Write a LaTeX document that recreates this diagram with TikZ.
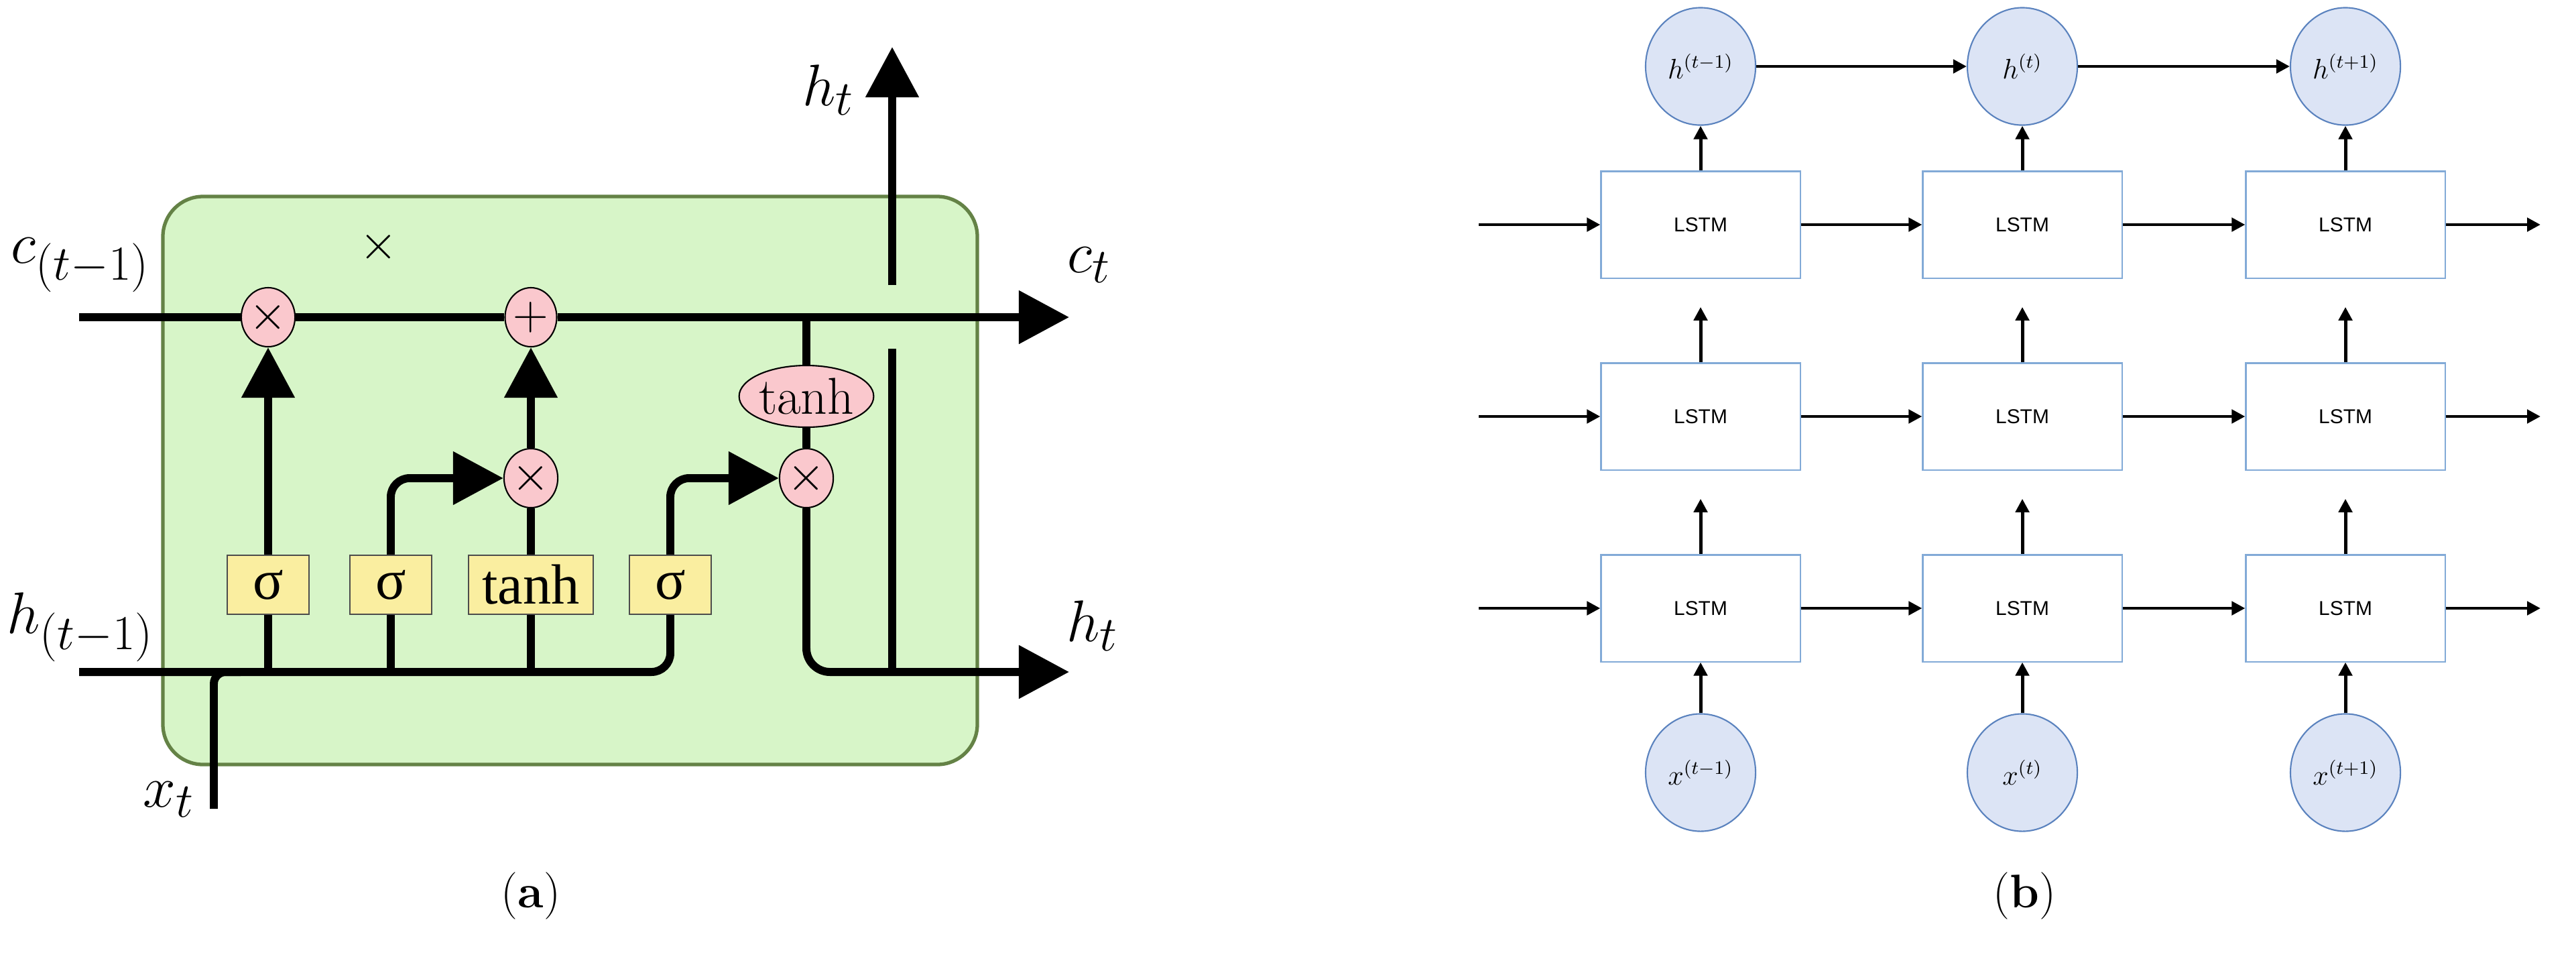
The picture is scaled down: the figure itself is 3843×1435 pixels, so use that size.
\documentclass[tikz,border=0pt]{standalone}
\usepackage{fontspec}
\newfontfamily\lstmfont{Liberation Sans}
\newfontfamily\gatefont{Liberation Serif}
\usetikzlibrary{arrows.meta,shapes.geometric,positioning}
\definecolor{cellgreen}{RGB}{215,245,200}
\definecolor{celledge}{RGB}{100,130,70}
\definecolor{oppink}{RGB}{250,200,205}
\definecolor{gateyellow}{RGB}{250,238,160}
\definecolor{unitblue}{RGB}{220,228,245}
\definecolor{unitedge}{RGB}{90,130,190}
\definecolor{boxedge}{RGB}{130,170,215}
\tikzset{
    flow/.style = {line width = 3.4pt},
    bigtip/.style = {-{Triangle[length = 0.75cm, width = 0.77cm]}},
    op/.style = {ellipse, draw, line width = 0.6pt, fill = oppink,
        minimum width = 0.77cm, minimum height = 0.88cm, inner sep = 0pt,
        font = \fontsize{22}{22}\selectfont},
    gate/.style = {rectangle, draw = black!70, line width = 0.6pt, fill = gateyellow,
        minimum width = 1.22cm, minimum height = 0.88cm, inner sep = 1pt,
        font = \gatefont\fontsize{24}{24}\selectfont},
    lbl/.style = {font = \fontsize{28}{28}\selectfont},
    unit/.style = {ellipse, draw = unitedge, line width = 0.6pt, fill = unitblue,
        minimum width = 1.64cm, minimum height = 1.75cm, inner sep = 0pt,
        font = \fontsize{12}{12}\selectfont},
    cell/.style = {rectangle, draw = boxedge, line width = 0.6pt,
        minimum width = 2.97cm, minimum height = 1.59cm,
        font = \lstmfont\fontsize{8.5}{9}\selectfont},
    link/.style = {line width = 1.4pt, -{Triangle[length = 0.2cm, width = 0.2cm]}},
}
\begin{document}
\begin{tikzpicture}[x = 0.01cm, y = -0.01cm]
    \useasboundingbox (0,0) rectangle (3843,1435);

    % (a) the cell
    \draw [celledge, fill = cellgreen, line width = 1.5pt, rounded corners = 17pt]
        (243,293) rectangle (1458,1140);
    \node [op] (mulf) at (400,473) {$\times$};
    \node [op] (addc) at (792,473) {$+$};
    \node [op] (muli) at (792,713) {$\times$};
    \node [op] (mulo) at (1203,713) {$\times$};
    \node [op, minimum width = 1.89cm, minimum height = 0.92cm] (tanhc) at (1203,591) {tanh};
    \node [gate] (sigf) at (400,872) {σ};
    \node [gate] (sigi) at (583,872) {σ};
    \node [gate, minimum width = 1.86cm] (tanhg) at (792,872) {tanh};
    \node [gate] (sigo) at (1000,872) {σ};
    \coordinate (cin) at (118,473);
    \coordinate (cout) at (1595,473);
    \coordinate (hin) at (118,1002);
    \coordinate (hout) at (1595,1002);
    \coordinate (xin) at (319,1206);
    \coordinate (hup) at (1331,70);

    \draw [flow] (cin) -- (mulf) -- (addc);
    \draw [flow, bigtip] (addc) -- (cout);
    \draw [flow, rounded corners = 8pt] (hin) -- (sigo |- hin) -- (sigo.south);
    \draw [flow, rounded corners = 5pt] (xin) -- (xin |- hin) -- ++(40,0);
    \draw [flow]
        (sigf.south) -- (sigf |- hin)
        (sigi.south) -- (sigi |- hin)
        (tanhg.south) -- (tanhg |- hin)
        (tanhg) -- (muli)
        (mulo |- cout) -- (tanhc) -- (mulo);
    \draw [flow, bigtip] (sigf) -- (mulf);
    \draw [flow, bigtip] (muli) -- (addc);
    \draw [flow, bigtip, rounded corners = 8pt] (sigi.north) |- (muli.west);
    \draw [flow, bigtip, rounded corners = 8pt] (sigo.north) |- (mulo.west);
    \draw [flow, bigtip, rounded corners = 10pt] (mulo) |- (hout);
    \draw [flow] (hup |- hin) -- (1331,520);
    \draw [flow, bigtip] (1331,425) -- (hup);

    \node [lbl] at (120,395) {$c_{(t-1)}$};
    \node [lbl] at (120,935) {$h_{(t-1)}$};
    \node [lbl] at (252,1192) {$x_t$};
    \node [lbl] at (1236,134) {$h_t$};
    \node [lbl] at (1625,395) {$c_t$};
    \node [lbl] at (1630,933) {$h_t$};
    \node [font = \fontsize{20}{20}\selectfont] at (565,368) {$\times$};
    \node [font = \fontsize{20}{20}\selectfont] at (792,1336) {(\textbf{a})};

    % (b) the stacked network
    \foreach \c/\x/\t in {1/2537/t-1, 2/3017/t, 3/3499/t+1} {
        \node [unit] (h\c) at (\x,99) {$h^{(\t)}$};
        \node [unit] (x\c) at (\x,1152) {$x^{(\t)}$};
        \foreach \r/\y in {1/335, 2/621, 3/907}
            \node [cell] (l\r\c) at (\x,\y) {LSTM};
        \draw [link] (x\c) -- (l3\c);
        \draw [link] (l3\c) -- ([yshift = -12]l2\c.south);
        \draw [link] (l2\c) -- ([yshift = -12]l1\c.south);
        \draw [link] (l1\c) -- (h\c);
    }
    \foreach \r in {1, 2, 3} {
        \coordinate (in\r) at (2206, 0 |- l\r1);
        \coordinate (out\r) at (3790, 0 |- l\r1);
        \draw [link] (in\r) -- (l\r1);
        \draw [link] (l\r1) -- (l\r2);
        \draw [link] (l\r2) -- (l\r3);
        \draw [link] (l\r3) -- (out\r);
    }
    \draw [link] (h1) -- (h2);
    \draw [link] (h2) -- (h3);
    \node [font = \fontsize{20}{20}\selectfont] at (3020,1336) {(\textbf{b})};
\end{tikzpicture}
\end{document}
